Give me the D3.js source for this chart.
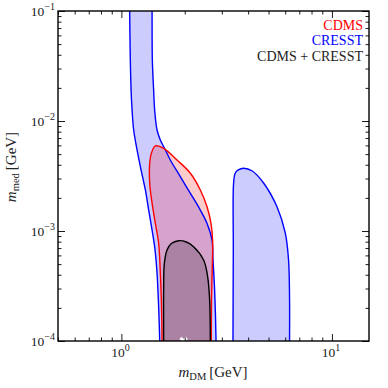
<!DOCTYPE html>
<html>
<head>
<meta charset="utf-8">
<script src="https://cdn.jsdelivr.net/npm/d3@7"></script>
<style>
  body { margin: 0; background: #fff; }
</style>
</head>
<body>
<div id="chart"></div>
<script>
// Contours as [m_DM (GeV), m_med (GeV)].
// Points below 1e-4 / above 1e-1 fall outside the frame and are clipped.
const cresstBand = [
  [1.095, 0.2], [1.095, 0.1], [1.112, 0.0191], [1.124, 0.01259], [1.144, 0.00828],
  [1.187, 0.00545], [1.240, 0.00359], [1.300, 0.00236], [1.348, 0.00155],
  [1.399, 0.00102], [1.439, 0.00072], [1.477, 4.15e-4], [1.503, 2.04e-4],
  [1.520, 1.02e-4], [1.522, 5e-5],
  [2.82, 5e-5], [2.815, 1.02e-4], [2.772, 2.91e-4], [2.724, 5.45e-4], [2.695, 8.28e-4],
  [2.552, 0.00117], [2.371, 0.00155], [2.127, 0.00220], [1.905, 0.00312],
  [1.708, 0.00442], [1.618, 0.00545], [1.531, 0.00672], [1.477, 0.00828],
  [1.439, 0.01259], [1.423, 0.0191], [1.403, 0.0359], [1.399, 0.1], [1.399, 0.2]
];

const cresstBlob = [
  [3.389, 5e-5], [3.389, 1.02e-4], [3.401, 6.72e-4], [3.412, 2.73e-3], [3.476, 3.37e-3],
  [3.592, 3.59e-3], [3.805, 3.72e-3], [4.184, 3.51e-3], [4.736, 2.73e-3],
  [5.483, 1.66e-3], [6.003, 9.6e-4], [6.223, 5.45e-4], [6.292, 2.36e-4],
  [6.292, 1.02e-4], [6.292, 5e-5]
];

const cdmsRegion = [
  [1.560, 5e-5], [1.560, 1.02e-4], [1.548, 2.36e-4], [1.531, 4.15e-4], [1.503, 7.73e-4],
  [1.450, 1.17e-3], [1.399, 1.79e-3], [1.363, 2.72e-3], [1.363, 4.12e-3],
  [1.388, 5.08e-3], [1.450, 5.93e-3], [1.588, 5.65e-3], [1.838, 4.42e-3],
  [2.127, 3.35e-3], [2.371, 2.36e-3], [2.552, 1.66e-3], [2.665, 1.17e-3],
  [2.712, 8.28e-4], [2.700, 4.42e-4], [2.680, 2.36e-4], [2.674, 1.02e-4], [2.674, 5e-5]
];

const combinedRegion = [
  [1.588, 5e-5], [1.588, 1.02e-4], [1.588, 2.91e-4], [1.600, 5.08e-4], [1.648, 6.72e-4],
  [1.727, 7.69e-4], [1.871, 8.16e-4], [2.035, 7.94e-4], [2.203, 7.2e-4],
  [2.458, 5.45e-4], [2.568, 3.85e-4], [2.625, 2.36e-4], [2.645, 1.02e-4], [2.645, 5e-5]
];

const bestFit = [[1.976, 1.0e-4]];

const xMajorTicks = [1, 10];
const xMajorExp = ['0', '1'];
const yMajorTicks = [1e-4, 1e-3, 1e-2, 1e-1];
const yMajorExp = ['\u22124', '\u22123', '\u22122', '\u22121'];

const legendItems = [
  { label: 'CDMS', color: '#ff0000' },
  { label: 'CRESST', color: '#0000ff' },
  { label: 'CDMS + CRESST', color: '#222222' }
];

const W = 388, H = 388;
const plot = { left: 58, right: 369, top: 11, bottom: 341 };
const serif = '"Liberation Serif", "DejaVu Serif", "Times New Roman", serif';

const svg = d3.select('#chart').append('svg')
  .attr('width', W)
  .attr('height', H)
  .attr('font-family', serif);

const x = d3.scaleLog().domain([0.5, 15]).range([plot.left, plot.right]);
const y = d3.scaleLog().domain([1e-4, 1e-1]).range([plot.bottom, plot.top]);

svg.append('clipPath').attr('id', 'clip')
  .append('rect')
  .attr('x', plot.left).attr('y', plot.top)
  .attr('width', plot.right - plot.left)
  .attr('height', plot.bottom - plot.top);

const line = d3.line()
  .x(d => x(d[0]))
  .y(d => y(d[1]))
  .curve(d3.curveCatmullRom.alpha(0.5));

const g = svg.append('g').attr('clip-path', 'url(#clip)');

// Fills first (alpha 0.2 like matplotlib), then outlines
const regions = [
  { data: cresstBand, color: '#0000ff' },
  { data: cresstBlob, color: '#0000ff' },
  { data: cdmsRegion, color: '#ff0000' },
  { data: combinedRegion, color: '#000000' }
];

regions.forEach(r => {
  g.append('path')
    .attr('d', line(r.data))
    .attr('fill', r.color)
    .attr('fill-opacity', 0.2)
    .attr('stroke', 'none');
});

regions.forEach(r => {
  g.append('path')
    .attr('d', line(r.data))
    .attr('fill', 'none')
    .attr('stroke', r.color)
    .attr('stroke-width', 1.4);
});

// Best-fit marker, mostly hidden below the frame
g.selectAll('.bf')
  .data(bestFit)
  .enter().append('path')
  .attr('class', 'bf')
  .attr('d', d3.symbol().type(d3.symbolCross).size(45))
  .attr('transform', d => `translate(${x(d[0])},${y(d[1])}) rotate(45)`)
  .attr('fill', '#ffffff');

// Axes: ticks point inward on all four sides
const xMinor = x.ticks().filter(v => !xMajorTicks.includes(v));
const yMinor = y.ticks().filter(v => !yMajorTicks.some(t => Math.abs(t - v) / t < 1e-6));

function addAxis(axisFn, scale, values, size, transform) {
  const a = svg.append('g')
    .attr('transform', transform)
    .call(axisFn(scale).tickValues(values).tickSize(-size).tickFormat(''));
  a.select('.domain').remove();
  a.selectAll('line').attr('stroke', '#000').attr('stroke-width', 0.9);
}

addAxis(d3.axisBottom, x, xMajorTicks, 7, `translate(0,${plot.bottom})`);
addAxis(d3.axisBottom, x, xMinor, 3.5, `translate(0,${plot.bottom})`);
addAxis(d3.axisTop, x, xMajorTicks, 7, `translate(0,${plot.top})`);
addAxis(d3.axisTop, x, xMinor, 3.5, `translate(0,${plot.top})`);
addAxis(d3.axisLeft, y, yMajorTicks, 7, `translate(${plot.left},0)`);
addAxis(d3.axisLeft, y, yMinor, 3.5, `translate(${plot.left},0)`);
addAxis(d3.axisRight, y, yMajorTicks, 7, `translate(${plot.right},0)`);
addAxis(d3.axisRight, y, yMinor, 3.5, `translate(${plot.right},0)`);

// Frame
svg.append('rect')
  .attr('x', plot.left).attr('y', plot.top)
  .attr('width', plot.right - plot.left)
  .attr('height', plot.bottom - plot.top)
  .attr('fill', 'none')
  .attr('stroke', '#000')
  .attr('stroke-width', 1.4);

// Tick labels as 10^n
const labelG = svg.append('g').attr('font-size', 13.5).attr('fill', '#222');

xMajorTicks.forEach((v, i) => {
  const t = labelG.append('text')
    .attr('font-family', serif)
    .attr('x', x(v) - 1)
    .attr('y', plot.bottom + 16)
    .attr('text-anchor', 'middle');
  t.append('tspan').text('10');
  t.append('tspan').attr('dy', -6).attr('font-size', 10).text(xMajorExp[i]);
});

yMajorTicks.forEach((v, i) => {
  const t = labelG.append('text')
    .attr('font-family', serif)
    .attr('x', plot.left - 3)
    .attr('y', y(v) + 5)
    .attr('text-anchor', 'end');
  t.append('tspan').text('10');
  t.append('tspan').attr('dy', -6).attr('font-size', 10).text(yMajorExp[i]);
});

// Axis titles
const xt = svg.append('text')
  .attr('font-family', serif)
  .attr('x', 213)
  .attr('y', 377)
  .attr('text-anchor', 'middle')
  .attr('font-size', 15)
  .attr('fill', '#222');
xt.append('tspan').attr('font-style', 'italic').text('m');
xt.append('tspan').attr('dy', 3).attr('font-size', 10.5).text('DM');
xt.append('tspan').attr('dy', -3).text('\u2009[GeV]');

const yt = svg.append('text')
  .attr('font-family', serif)
  .attr('transform', 'translate(16,167) rotate(-90)')
  .attr('text-anchor', 'middle')
  .attr('font-size', 15)
  .attr('fill', '#222');
yt.append('tspan').attr('font-style', 'italic').text('m');
yt.append('tspan').attr('dy', 3).attr('font-size', 10.5).text('med');
yt.append('tspan').attr('dy', -3).text('\u2009[GeV]');

// Legend (coloured text, right aligned)
svg.append('g').selectAll('text')
  .data(legendItems)
  .enter().append('text')
  .attr('font-family', serif)
  .attr('x', 363)
  .attr('y', (d, i) => 29.5 + i * 15.5)
  .attr('text-anchor', 'end')
  .attr('font-size', 14)
  .attr('fill', d => d.color)
  .text(d => d.label);
</script>
</body>
</html>
